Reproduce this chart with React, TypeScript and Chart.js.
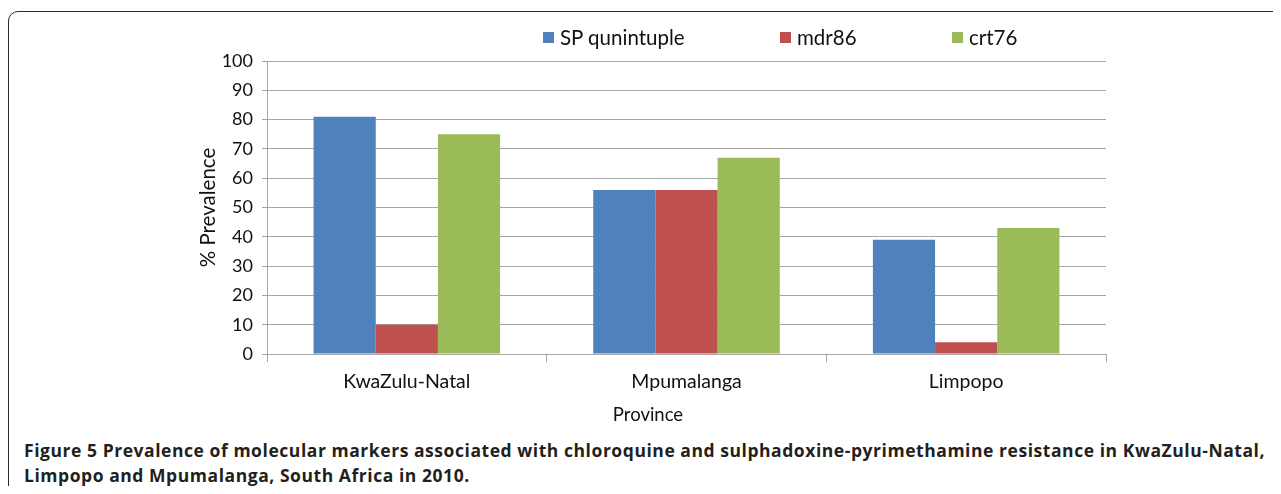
import React, { useEffect, useRef } from "react";
import { Chart, registerables } from "chart.js";

Chart.register(...registerables);

const categories = ["KwaZulu-Natal", "Mpumalanga", "Limpopo"];
const seriesNames = ["SP qunintuple", "mdr86", "crt76"];
const spQunintuple = [81, 56, 39];
const mdr86 = [10, 56, 4];
const crt76 = [75, 67, 43];
const seriesColors = ["#4F81BD", "#C0504D", "#9BBB59"];
const yTicks = [0, 10, 20, 30, 40, 50, 60, 70, 80, 90, 100];

const FONT = "Lato, 'Open Sans', sans-serif";
const legendX = [543, 780, 952];

export default function App() {
  const ref = useRef<HTMLCanvasElement | null>(null);

  useEffect(() => {
    if (!ref.current) return;
    const values = [spQunintuple, mdr86, crt76];
    const chart = new Chart(ref.current, {
      type: "bar",
      data: {
        labels: categories,
        datasets: seriesNames.map((name, i) => ({
          label: name,
          data: values[i],
          backgroundColor: seriesColors[i],
          borderWidth: 0,
          categoryPercentage: 0.667,
          barPercentage: 1,
        })),
      },
      options: {
        animation: false,
        responsive: false,
        devicePixelRatio: 1,
        layout: { padding: { left: 196, top: 61, right: 175, bottom: 5 } },
        plugins: { legend: { display: false }, tooltip: { enabled: false } },
        scales: {
          x: {
            afterFit: (s: any) => {
              s.height = 71;
              s.paddingLeft = 0;
              s.paddingRight = 0;
            },
            grid: {
              drawOnChartArea: false,
              drawTicks: true,
              tickLength: 8,
              color: "#A6A6A6",
              offset: true,
            },
            border: { color: "#A6A6A6", width: 1 },
            ticks: {
              color: "#111111",
              font: { family: FONT, size: 19.5 },
              padding: 8,
              maxRotation: 0,
            },
          },
          y: {
            min: 0,
            max: 100,
            afterFit: (s: any) => {
              s.width = 71;
              s.paddingTop = 0;
              s.paddingBottom = 0;
            },
            afterBuildTicks: (s: any) => {
              s.ticks = yTicks.map((v) => ({ value: v }));
            },
            grid: {
              color: "#A6A6A6",
              drawTicks: true,
              tickLength: 5,
            },
            border: { color: "#A6A6A6", width: 1 },
            ticks: {
              color: "#111111",
              font: { family: FONT, size: 18 },
              padding: 9,
            },
            title: {
              display: true,
              text: "% Prevalence",
              color: "#111111",
              font: { family: FONT, size: 20.5 },
              padding: 0,
            },
          },
        },
      },
    });
    return () => chart.destroy();
  }, []);

  return (
    <div style={{ position: "relative", width: 1281, height: 494, overflow: "hidden", margin: -8 }}>
      <div
        style={{
          position: "absolute",
          left: 8,
          top: 11,
          width: 1320,
          height: 540,
          border: "1.5px solid #2b2b2b",
          borderRadius: 10,
          boxSizing: "border-box",
        }}
      />
      <canvas
        ref={ref}
        width={1281}
        height={430}
        style={{ position: "absolute", left: 0, top: 0, width: 1281, height: 430 }}
      />
      {seriesNames.map((name, i) => (
        <div
          key={name}
          style={{
            position: "absolute",
            left: legendX[i],
            top: 25,
            height: 24,
            display: "flex",
            alignItems: "center",
            fontFamily: FONT,
            fontSize: 20.5,
            color: "#111111",
            whiteSpace: "nowrap",
          }}
        >
          <span
            style={{
              display: "inline-block",
              width: 11,
              height: 11,
              background: seriesColors[i],
              marginRight: 6,
            }}
          />
          {name}
        </div>
      ))}
      <div
        style={{
          position: "absolute",
          left: 548,
          width: 200,
          top: 402,
          height: 24,
          lineHeight: "24px",
          textAlign: "center",
          fontFamily: FONT,
          fontSize: 18.5,
          color: "#111111",
        }}
      >
        Province
      </div>
      <div
        style={{
          position: "absolute",
          left: 24,
          top: 438,
          fontFamily: "'Open Sans', sans-serif",
          fontWeight: 700,
          fontSize: 17.5,
          letterSpacing: "0.55px",
          lineHeight: "25px",
          color: "#231f20",
          whiteSpace: "nowrap",
        }}
      >
        Figure 5 Prevalence of molecular markers associated with chloroquine and sulphadoxine-pyrimethamine resistance in KwaZulu-Natal,
        <br />
        Limpopo and Mpumalanga, South Africa in 2010.
      </div>
    </div>
  );
}
